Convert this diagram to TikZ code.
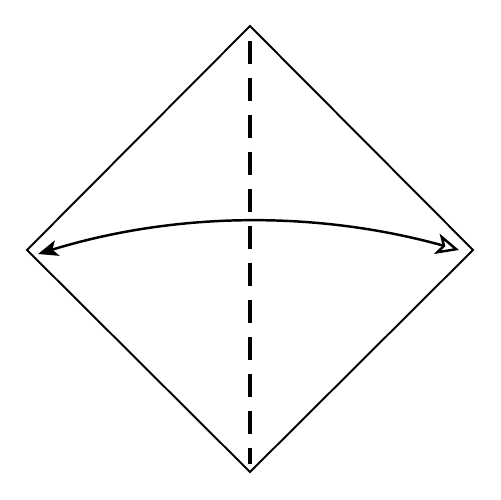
\documentclass[tikz,border=0pt]{standalone}
\usetikzlibrary{arrows.meta}
\begin{document}
\begin{tikzpicture}[x=0.02cm,y=-0.02cm,
  edge/.style={line width=1.1pt,line join=miter},
  fold/.style={line width=2pt,dash pattern=on 0.46cm off 0.28cm},
  swing/.style={line width=1.4pt}]
\useasboundingbox (0,0) rectangle (500,500);
\fill[white] (0,0) rectangle (500,500);
\coordinate (T) at (250,26);
\coordinate (B) at (250,472);
\coordinate (L) at (27,250);
\coordinate (R) at (473,250);
\draw[edge] (T) -- (R) -- (B) -- (L) -- cycle;
\coordinate (FT) at (250,41);
\coordinate (FB) at (250,464);
\draw[fold] (FT) -- (FB);
\coordinate (AL) at (38,254);
\coordinate (AR) at (459,250);
\draw[swing,
  {Stealth[length=0.4cm,width=0.32cm,inset=0.1cm]}-{Stealth[open,length=0.46cm,width=0.42cm,inset=0.12cm,fill=white,line width=1.4pt]}]
  (AL) .. controls (178,211) and (319,211) .. (AR);
\end{tikzpicture}
\end{document}
